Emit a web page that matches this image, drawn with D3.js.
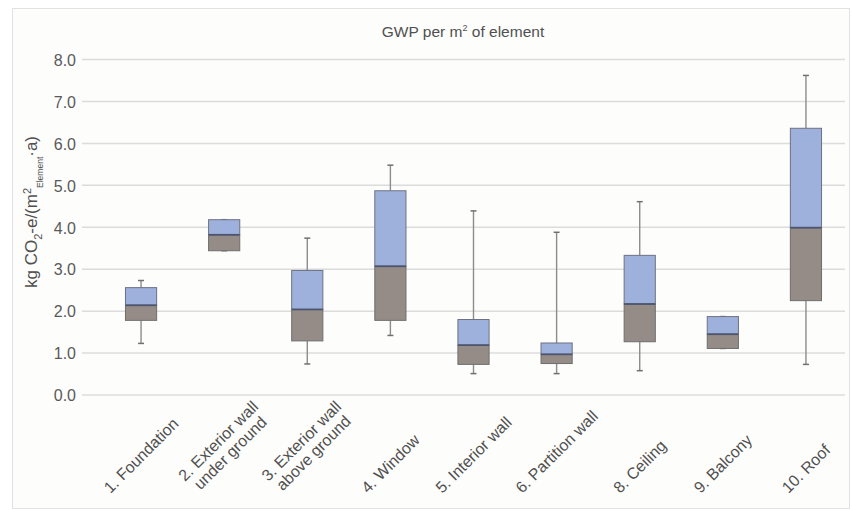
<!DOCTYPE html>
<html><head><meta charset="utf-8">
<script src="https://cdn.jsdelivr.net/npm/d3@7"></script>
<style>
body{margin:0;background:#fff;}
svg{display:block;font-family:"Liberation Sans",Arial,sans-serif;}
</style></head>
<body><svg id="c" width="852" height="511"></svg>
<script>
const categories = ["1. Foundation", "2. Exterior wall\nunder ground", "3. Exterior wall\nabove ground", "4. Window", "5. Interior wall", "6. Partition wall", "8. Ceiling", "9. Balcony", "10. Roof"];
const minVals = [1.23, 3.44, 0.74, 1.42, 0.51, 0.51, 0.58, 1.11, 0.73];
const q1Vals = [1.78, 3.44, 1.29, 1.78, 0.73, 0.75, 1.27, 1.11, 2.25];
const medianVals = [2.14, 3.82, 2.04, 3.07, 1.19, 0.97, 2.17, 1.45, 3.99];
const q3Vals = [2.56, 4.18, 2.97, 4.87, 1.80, 1.24, 3.33, 1.87, 6.36];
const maxVals = [2.73, 4.18, 3.74, 5.48, 4.39, 3.88, 4.61, 1.87, 7.62];
const yTicks = [0, 1, 2, 3, 4, 5, 6, 7, 8];

const svg = d3.select("#c");
svg.append("rect").attr("x", 0).attr("y", 0).attr("width", 852).attr("height", 511).attr("fill", "#ffffff");
svg.append("rect").attr("x", 12.5).attr("y", 8.5).attr("width", 837).attr("height", 500)
  .attr("fill", "#fdfdfc").attr("stroke", "#e2e2e2").attr("stroke-width", 1);

const gridL = 82, gridR = 845;
const y = d3.scaleLinear().domain([0, 8]).range([395, 59.5]);
const x = d3.scaleBand().domain(categories).range([99.5, 847.5]);

// gridlines
svg.append("g").selectAll("line").data(yTicks).join("line")
  .attr("x1", gridL).attr("x2", gridR)
  .attr("y1", d => y(d)).attr("y2", d => y(d))
  .attr("stroke", "#dcdcdc").attr("stroke-width", 1.5);

// y axis labels
const yAxis = d3.axisLeft(y).tickValues(yTicks).tickFormat(d3.format(".1f")).tickSize(0).tickPadding(0);
const ga = svg.append("g").attr("transform", "translate(76,0)").call(yAxis);
ga.select(".domain").remove();
ga.selectAll("text").attr("fill", "#595959").style("font-size", "16px").style("font-family", "'Liberation Sans',Arial,sans-serif").attr("dy", "0.36em");

// title
const title = svg.append("text").attr("x", 463).attr("y", 36.5).attr("text-anchor", "middle")
  .attr("fill", "#505050").style("font-size", "15.5px");
title.append("tspan").text("GWP per m");
title.append("tspan").attr("dy", -6).style("font-size", "9px").text("2");
title.append("tspan").attr("dy", 6).text(" of element");

// y label
const yl = svg.append("text").attr("transform", "translate(37,212) rotate(-90)").attr("text-anchor", "middle")
  .attr("fill", "#505050").style("font-size", "17px");
yl.append("tspan").text("kg CO");
yl.append("tspan").attr("dy", 5).style("font-size", "11px").text("2");
yl.append("tspan").attr("dy", -5).text("-e/(m");
yl.append("tspan").attr("dy", -6).style("font-size", "11px").text("2");
yl.append("tspan").attr("dy", 12).style("font-size", "8.5px").text("Element");
yl.append("tspan").attr("dy", -6).text("·a)");

// boxes
const bw = x.step() * 0.375;
const data = categories.map((c, i) => ({c, min: minVals[i], q1: q1Vals[i], med: medianVals[i], q3: q3Vals[i], max: maxVals[i]}));
const cx = d => x(d.c) + x.bandwidth() / 2;
const g = svg.append("g");
// whiskers
g.selectAll(".wu").data(data).join("line")
  .attr("x1", cx).attr("x2", cx).attr("y1", d => y(d.q3)).attr("y2", d => y(d.max))
  .attr("stroke", "#8c8c8c").attr("stroke-width", 1.4);
g.selectAll(".wl").data(data).join("line")
  .attr("x1", cx).attr("x2", cx).attr("y1", d => y(d.q1)).attr("y2", d => y(d.min))
  .attr("stroke", "#8c8c8c").attr("stroke-width", 1.4);
["max", "min"].forEach(k => {
  g.selectAll(".cap" + k).data(data).join("line")
    .attr("x1", d => cx(d) - 3).attr("x2", d => cx(d) + 3)
    .attr("y1", d => y(d[k])).attr("y2", d => y(d[k]))
    .attr("stroke", "#707070").attr("stroke-width", 1.5);
});
// lower box
g.selectAll(".lb").data(data).join("rect")
  .attr("x", d => cx(d) - bw / 2).attr("width", bw)
  .attr("y", d => y(d.med)).attr("height", d => y(d.q1) - y(d.med))
  .attr("fill", "#958c87").attr("stroke", "#6e6e6e").attr("stroke-width", 1);
// upper box
g.selectAll(".ub").data(data).join("rect")
  .attr("x", d => cx(d) - bw / 2).attr("width", bw)
  .attr("y", d => y(d.q3)).attr("height", d => y(d.med) - y(d.q3))
  .attr("fill", "#9eb1dd").attr("stroke", "#6e7180").attr("stroke-width", 1);
// median
g.selectAll(".md").data(data).join("line")
  .attr("x1", d => cx(d) - bw / 2).attr("x2", d => cx(d) + bw / 2)
  .attr("y1", d => y(d.med)).attr("y2", d => y(d.med))
  .attr("stroke", "#4d5670").attr("stroke-width", 1.8);

// x labels rotated -45, centered on category, bottom aligned
const fs = 16, lh = 17, bottom = 496;
const s = Math.SQRT1_2;
categories.forEach(c => {
  const lines = c.split("\n");
  const t = svg.append("text").attr("text-anchor", "middle").attr("fill", "#505050").style("font-size", fs + "px");
  const n = lines.length;
  lines.forEach((ln, j) => {
    t.append("tspan").attr("x", 0).attr("y", (j - (n - 1) / 2) * lh).attr("dy", "0.35em").text(ln);
  });
  let L = 0;
  t.selectAll("tspan").each(function() { L = Math.max(L, this.getComputedTextLength()); });
  const H = n * lh;
  const halfV = (L / 2) * s + (H / 2) * s;
  const px = x(c) + x.bandwidth() / 2;
  const py = bottom - halfV;
  t.attr("transform", `translate(${px},${py}) rotate(-45)`);
});
</script></body></html>
